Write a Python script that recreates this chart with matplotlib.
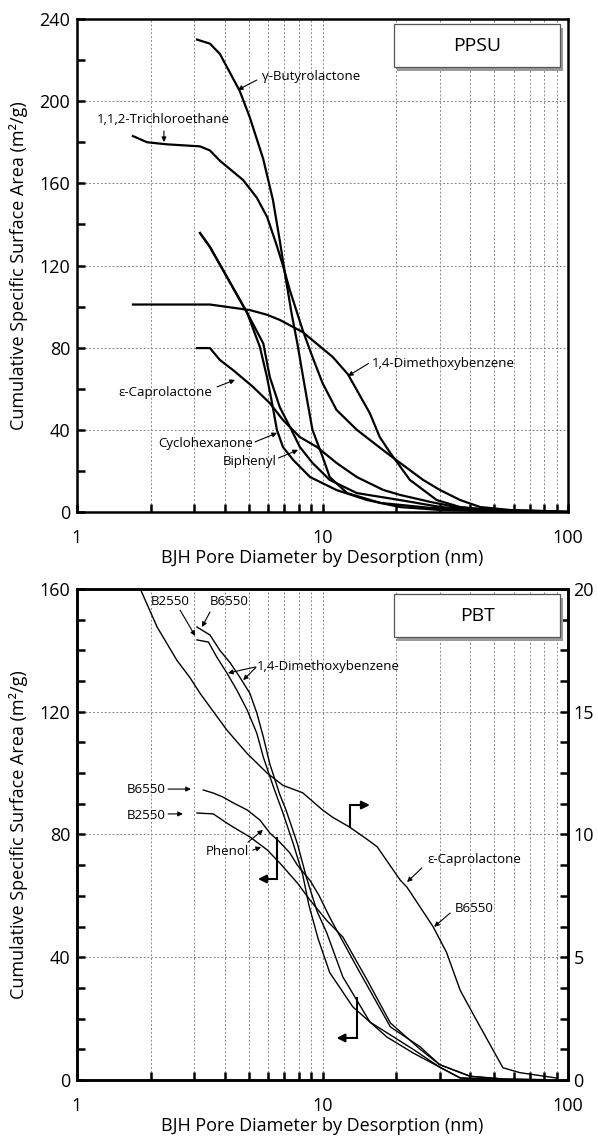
import numpy as np
import matplotlib
matplotlib.use('Agg')
import matplotlib.pyplot as plt
from matplotlib.patches import Rectangle
from matplotlib.ticker import MultipleLocator, NullFormatter, LogLocator, FixedLocator, FixedFormatter

plt.rcParams['font.family'] = ['Open Sans', 'DejaVu Sans']

# ---------------- PPSU (top) ----------------
gbl_x = [3.08, 3.48, 3.82, 4.6, 5.06, 5.73, 6.28, 6.7, 7.1, 7.5, 7.9, 8.3, 8.7, 9.1, 10.0, 10.7, 12.6, 17.2, 27.5, 37.5, 60, 90]
gbl_y = [230, 228, 223, 205, 192, 172, 152, 132, 113, 96, 82, 67, 53, 40, 27, 17, 9.2, 4.4, 2.0, 1.5, 0.6, 0.3]

tce_x = [1.69, 1.93, 2.32, 3.17, 3.48, 3.82, 4.75, 5.4, 5.95, 6.5, 6.9, 7.36, 8.3, 9.1, 10.0, 11.4, 13.8, 17.7, 20.7, 25.7, 30.1, 36.4, 43.9, 60, 90]
tce_y = [183, 180, 179, 178, 176, 171, 161.6, 153, 143.6, 130, 120, 108, 88.6, 75.5, 62.8, 49.7, 40, 30, 23.9, 15.6, 10.7, 5.8, 2.4, 0.8, 0.3]

chx_x = [3.17, 3.48, 4.08, 4.93, 5.56, 5.94, 6.23, 6.52, 6.9, 7.6, 8.9, 11.4, 15.2, 20.7, 30, 50, 90]
chx_y = [135.8, 129, 114.4, 97, 80.3, 65.7, 53, 40, 31.6, 25.3, 17, 10.7, 5.8, 2.4, 1.0, 0.4, 0.2]

bip_x = [3.17, 3.48, 4.08, 4.93, 5.74, 6.1, 6.7, 7.37, 8.09, 9.1, 10.7, 13.8, 20.7, 30, 40, 60, 90]
bip_y = [135.8, 129, 114.4, 97, 82, 65.7, 51, 41.4, 31.6, 23.9, 15.6, 9.2, 5.8, 2.5, 1.0, 0.4, 0.2]

ecl_x = [3.08, 3.48, 3.82, 4.33, 5.2, 6.1, 6.9, 8.08, 9.5, 11.4, 13.8, 17.7, 20.7, 27.5, 35, 50, 90]
ecl_y = [79.8, 79.8, 74, 69, 61, 53, 44.8, 36.5, 31.6, 23.9, 17, 10.7, 8.3, 4.9, 2.4, 0.8, 0.3]

dmb_x = [1.69, 3.48, 5.06, 5.95, 6.7, 8.3, 11.0, 12.7, 15.6, 17.1, 18.9, 22.7, 29.2, 36.4, 50, 98]
dmb_y = [101, 101, 98.3, 96, 93.5, 87.6, 75.5, 67, 48, 36.5, 28.7, 15.6, 5.8, 2.4, 0.8, 0.3]

# ---------------- PBT (bottom) ----------------
# e-caprolactone B6550, right axis (0-20)
pcl_x = [1.81, 2.12, 2.55, 2.88, 3.17, 4.08, 4.93, 5.95, 6.9, 8.3, 10, 11, 12.9, 15.2, 16.7, 20.7, 22.1, 28.2, 32, 36.4, 41, 54.3, 63.6, 90]
pcl_y = [20, 18.45, 17.1, 16.4, 15.75, 14.25, 13.3, 12.5, 12.0, 11.7, 11.0, 10.7, 10.3, 9.8, 9.5, 8.15, 7.85, 6.25, 5.2, 3.65, 2.7, 0.5, 0.3, 0.08]

dmb25_x = [3.08, 3.43, 3.71, 4.08, 4.48, 4.93, 5.4, 5.74, 6.28, 6.9, 7.6, 8.3, 8.8, 9.6, 10.7, 13.3, 18.3, 23.4, 30, 36.4, 50]
dmb25_y = [143.4, 142.7, 137.8, 132.6, 127, 120.6, 113, 105.2, 96, 87, 77, 67, 57, 46, 35, 23.8, 14, 8.8, 4.2, 0.65, 0.2]

dmb65_x = [3.08, 3.48, 3.82, 4.2, 4.6, 5.06, 5.4, 5.74, 6.1, 6.7, 7.1, 7.9, 8.6, 9.5, 10.4, 12.1, 15.6, 23.4, 30, 36.4, 50]
dmb65_y = [147.6, 145, 140, 136, 131.3, 126, 119.6, 111.8, 103, 93, 88, 77, 66, 55, 48, 33.6, 18.9, 10, 4.2, 0.65, 0.2]

phe65_x = [3.27, 3.59, 3.93, 4.33, 4.93, 5.56, 6.1, 6.7, 7.36, 7.9, 8.9, 9.7, 10.7, 13.8, 18.9, 25, 30, 40, 55, 80]
phe65_y = [94.5, 93.5, 92.2, 90.3, 88, 84.7, 80.5, 77.5, 74, 70, 65, 60, 53, 36.8, 17.3, 10.8, 5, 1.2, 0.3, 0.1]

phe25_x = [3.08, 3.59, 4.08, 4.33, 5.06, 5.95, 6.7, 7.9, 8.9, 10.4, 12.1, 15.2, 18.9, 25, 30, 40, 55, 80]
phe25_y = [87, 86.7, 83.7, 82.4, 79.2, 75, 70.7, 64.2, 58.6, 52, 46.6, 32.6, 18.6, 10, 5, 1.2, 0.3, 0.1]

x_ticks = [1, 10, 100]
x_ticklabels = ['1', '10', '100']

fig = plt.figure(figsize=(5.98, 11.39), dpi=100)
ax1 = fig.add_axes([0.1288, 0.5505, 0.821, 0.4328])
ax2 = fig.add_axes([0.1288, 0.0518, 0.821, 0.4311])
ax2r = ax2.twinx()

FS = 9.5


def style(ax, ymax, ymaj, ymin):
    ax.set_xscale('log')
    ax.set_xlim(1, 100)
    ax.set_ylim(0, ymax)
    ax.xaxis.set_major_locator(FixedLocator(x_ticks))
    ax.xaxis.set_major_formatter(FixedFormatter(x_ticklabels))
    ax.xaxis.set_minor_locator(LogLocator(base=10, subs=np.arange(2, 10)))
    ax.xaxis.set_minor_formatter(NullFormatter())
    ax.yaxis.set_major_locator(MultipleLocator(ymaj))
    ax.yaxis.set_minor_locator(MultipleLocator(ymin))
    ax.tick_params(which='both', direction='in', width=1.8, length=6,
                   labelsize=13, top=False, right=False)
    ax.tick_params(axis='x', which='major', pad=12)
    ax.tick_params(axis='y', which='major', pad=5)
    for s in ax.spines.values():
        s.set_linewidth(1.8)
    ax.set_axisbelow(True)
    ax.grid(which='major', axis='y', ls=(0, (2, 2)), color='#888888', lw=0.7)
    ax.grid(which='both', axis='x', ls=(0, (2, 2)), color='#888888', lw=0.7)
    ax.set_xlabel('BJH Pore Diameter by Desorption (nm)', fontsize=13, labelpad=2)
    ax.set_ylabel('Cumulative Specific Surface Area (m²/g)', fontsize=13, labelpad=8)


def title_box(ax, label):
    ax.add_patch(Rectangle((0.652, 0.895), 0.338, 0.087, transform=ax.transAxes,
                           facecolor='#9a9a9a', edgecolor='none', zorder=5))
    ax.add_patch(Rectangle((0.646, 0.902), 0.338, 0.087, transform=ax.transAxes,
                           facecolor='white', edgecolor='#555555', lw=0.9, zorder=6))
    ax.text(0.815, 0.945, label, transform=ax.transAxes, ha='center', va='center',
            fontsize=14, zorder=7)


arr = dict(arrowstyle='-|>', color='k', lw=0.8, mutation_scale=7, shrinkA=0, shrinkB=0)

# ----- top panel -----
style(ax1, 240, 40, 20)
lw = 1.6
for xs, ys in [(gbl_x, gbl_y), (tce_x, tce_y), (chx_x, chx_y), (bip_x, bip_y),
               (ecl_x, ecl_y), (dmb_x, dmb_y)]:
    ax1.plot(xs, ys, color='k', lw=lw)
title_box(ax1, 'PPSU')

ax1.text(5.67, 211.8, 'γ-Butyrolactone', fontsize=FS, va='center')
ax1.annotate('', xy=(4.52, 205.5), xytext=(5.4, 210.3), arrowprops=arr)
ax1.text(2.24, 191.3, '1,1,2-Trichloroethane', fontsize=FS, va='center', ha='center')
ax1.annotate('', xy=(2.26, 180.1), xytext=(2.26, 185.5), arrowprops=arr)
ax1.text(3.55, 58.4, 'ε-Caprolactone', fontsize=FS, va='center', ha='right')
ax1.annotate('', xy=(4.40, 64.3), xytext=(3.72, 60.9), arrowprops=arr)
ax1.text(5.21, 33.1, 'Cyclohexanone', fontsize=FS, va='center', ha='right')
ax1.annotate('', xy=(6.53, 38.5), xytext=(5.31, 34.1), arrowprops=arr)
ax1.text(6.53, 24.8, 'Biphenyl', fontsize=FS, va='center', ha='right')
ax1.annotate('', xy=(7.95, 30.2), xytext=(6.62, 26.3), arrowprops=arr)
ax1.text(15.9, 72.1, '1,4-Dimethoxybenzene', fontsize=FS, va='center')
ax1.annotate('', xy=(12.7, 66.2), xytext=(15.4, 72.3), arrowprops=arr)

# ----- bottom panel -----
ax2r.set_ylim(0, 20)
ax2r.yaxis.set_major_locator(MultipleLocator(5))
ax2r.yaxis.set_minor_locator(MultipleLocator(1.25))
ax2r.tick_params(which='both', direction='in', width=1.8, length=6, labelsize=13, pad=4)
for s in ax2r.spines.values():
    s.set_linewidth(1.8)
style(ax2, 160, 40, 10)

lw2 = 1.0
for xs, ys in [(dmb25_x, dmb25_y), (dmb65_x, dmb65_y), (phe65_x, phe65_y), (phe25_x, phe25_y)]:
    ax2.plot(xs, ys, color='k', lw=lw2)
ax2r.plot(pcl_x, pcl_y, color='k', lw=lw2)
title_box(ax2r, 'PBT')

ax2.text(2.39, 155.8, 'B2550', fontsize=FS, ha='center', va='center')
ax2.annotate('', xy=(3.03, 144.7), xytext=(2.63, 153.1), arrowprops=arr)
ax2.text(4.16, 155.8, 'B6550', fontsize=FS, ha='center', va='center')
ax2.annotate('', xy=(3.23, 147.6), xytext=(3.48, 152.5), arrowprops=arr)
ax2.text(5.41, 134.9, '1,4-Dimethoxybenzene', fontsize=FS, va='center')
ax2.annotate('', xy=(4.12, 132.6), xytext=(5.35, 134.6), arrowprops=arr)
ax2.annotate('', xy=(4.75, 130.3), xytext=(5.35, 134.4), arrowprops=arr)
ax2.text(2.30, 94.5, 'B6550', fontsize=FS, ha='right', va='center')
ax2.annotate('', xy=(2.91, 94.8), xytext=(2.35, 94.8), arrowprops=arr)
ax2.text(2.30, 86.3, 'B2550', fontsize=FS, ha='right', va='center')
ax2.annotate('', xy=(2.70, 86.7), xytext=(2.35, 86.7), arrowprops=arr)
ax2.text(4.08, 74.3, 'Phenol', fontsize=FS, ha='center', va='center')
ax2.annotate('', xy=(5.72, 81.5), xytext=(4.97, 77.5), arrowprops=arr)
ax2.annotate('', xy=(5.62, 75.9), xytext=(5.2, 74.9), arrowprops=arr)
ax2.text(26.7, 71.7, 'ε-Caprolactone', fontsize=FS, va='center')
ax2.annotate('', xy=(22.1, 64.5), xytext=(25.4, 69.1), arrowprops=arr)
ax2.text(34.7, 56.0, 'B6550', fontsize=FS, va='center')
ax2.annotate('', xy=(28.5, 49.9), xytext=(33.1, 54.4), arrowprops=arr)

# axis indicator brackets
big = dict(arrowstyle='-|>', color='k', lw=1.5, mutation_scale=12, shrinkA=0, shrinkB=0)
ax2.plot([6.5, 6.5], [78.8, 65.5], color='k', lw=1.5)
ax2.annotate('', xy=(5.46, 65.5), xytext=(6.5, 65.5), arrowprops=big)
ax2.plot([13.8, 13.8], [26.7, 13.7], color='k', lw=1.5)
ax2.annotate('', xy=(11.4, 13.7), xytext=(13.8, 13.7), arrowprops=big)
ax2.plot([12.95, 12.95], [82.4, 89.6], color='k', lw=1.5)
ax2.annotate('', xy=(15.6, 89.6), xytext=(12.95, 89.6), arrowprops=big)

fig.savefig('out.png', dpi=100)
